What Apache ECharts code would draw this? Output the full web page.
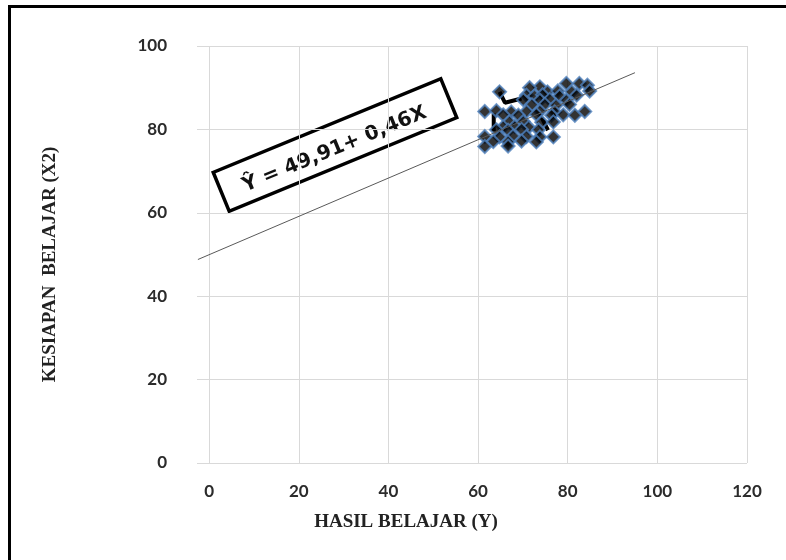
<!DOCTYPE html>
<html>
<head>
<meta charset="utf-8">
<script src="https://cdn.jsdelivr.net/npm/echarts@6/dist/echarts.min.js"></script>
<style>
html, body { margin: 0; padding: 0; background: #fff; }
#chart { width: 786px; height: 560px; }
</style>
</head>
<body>
<div id="chart"></div>
<script>
// hasil belajar (Y) vs kesiapan belajar (X2)
const hasilBelajar = [
	79.7, 82.6, 84.4, 73.8, 71.5,
	64.8, 75.5, 77.8, 80.9, 84.9,
	70.8, 72.6, 74.4, 78.2, 82.0,
	70.1, 73.8, 76.0, 79.7,
	72.0, 74.9, 77.4, 80.4,
	61.5, 64.1, 67.4, 70.8, 73.8, 77.1, 83.8,
	65.6, 69.0, 73.0, 76.4, 79.0, 81.6,
	67.0, 70.1, 74.2, 76.8,
	65.6, 68.2, 71.3,
	64.1, 66.7, 69.7, 73.5,
	61.5, 64.8, 67.8, 70.8, 73.8, 76.8,
	63.4, 66.7, 69.7, 73.0,
	61.5, 66.7
];
const kesiapanBelajar = [
	91.0, 91.0, 90.6, 90.2, 90.0,
	89.0, 89.0, 89.2, 89.0, 89.2,
	88.2, 88.0, 88.3, 88.0, 88.2,
	87.1, 87.0, 87.2, 87.0,
	85.9, 86.0, 85.8, 86.0,
	84.3, 84.5, 84.2, 84.3, 84.4, 84.2, 84.3,
	83.5, 83.4, 83.6, 83.4, 83.5, 83.4,
	81.8, 81.9, 81.7, 81.8,
	80.6, 80.7, 80.5,
	79.9, 79.8, 80.0, 79.9,
	78.3, 78.2, 78.4, 78.3, 78.2, 78.2,
	77.1, 77.0, 77.2, 77.0,
	75.9, 76.0
];
// black pointer strokes inside the cluster (null breaks the line)
const strokeX = [64.8, 66.0, 69.7, null, 63.5, 63.5, null, 74.2, 75.6];
const strokeY = [89.0, 86.4, 87.4, null, 83.8, 79.6, null, 82.8, 79.8];
// regression line end points
const trendX = [-2.5, 95];
const trendY = [48.8, 93.6];
const xTicks = [0, 20, 40, 60, 80, 100, 120];
const equation = 'Ŷ = 49,91+ 0,46X';

const labelStyle = {
	fontFamily: 'Lato',
	fontWeight: 'bold',
	fontSize: 17,
	color: '#2b2b2b'
};

const option = {
	animation: false,
	backgroundColor: '#fff',
	grid: {
		left: 197,
		right: 39,
		top: 46,
		bottom: 97
	},
	xAxis: {
		type: 'value',
		min: -2.7,
		max: 120,
		name: 'HASIL BELAJAR (Y)',
		nameLocation: 'middle',
		nameGap: 50,
		nameTextStyle: {
			fontFamily: 'Liberation Serif',
			fontWeight: 'bold',
			fontSize: 19,
			color: '#222',
			padding: [0, 132, 0, 0]
		},
		axisLine: { show: false },
		axisTick: { show: false, customValues: xTicks },
		axisLabel: Object.assign({ customValues: xTicks, margin: 20 }, labelStyle),
		splitLine: { show: true, lineStyle: { color: '#d9d9d9', width: 1 } }
	},
	yAxis: {
		type: 'value',
		min: 0,
		max: 100,
		interval: 20,
		name: 'KESIAPAN  BELAJAR (X2)',
		nameLocation: 'middle',
		nameGap: 137,
		nameTextStyle: {
			fontFamily: 'Liberation Serif',
			fontWeight: 'bold',
			fontSize: 19,
			color: '#222',
			padding: [0, 20, 0, 0]
		},
		axisLine: { show: false },
		axisTick: { show: false },
		axisLabel: Object.assign({ margin: 30 }, labelStyle),
		splitLine: { show: true, lineStyle: { color: '#d9d9d9', width: 1 } }
	},
	series: [
		{
			name: 'Trend',
			type: 'line',
			data: trendX.map((x, i) => [x, trendY[i]]),
			showSymbol: false,
			lineStyle: { color: '#595959', width: 1 },
			z: 3
		},
		{
			name: 'Strokes',
			type: 'line',
			data: strokeX.map((x, i) => (x === null ? [null, null] : [x, strokeY[i]])),
			connectNulls: false,
			showSymbol: false,
			lineStyle: { color: '#000', width: 4 },
			z: 1
		},
		{
			name: 'Data',
			type: 'scatter',
			data: hasilBelajar.map((x, i) => [x, kesiapanBelajar[i]]),
			symbol: 'diamond',
			symbolSize: 13,
			itemStyle: {
				color: '#000',
				borderColor: '#4f81bd',
				borderWidth: 2
			},
			z: 2
		}
	],
	graphic: [
		{
			type: 'rect',
			shape: { x: 9.5, y: 6.5, width: 900, height: 700 },
			style: { fill: null, stroke: '#000', lineWidth: 3 },
			silent: true
		},
		{
			type: 'group',
			x: 335,
			y: 145,
			rotation: 0.39,
			children: [
				{
					type: 'rect',
					shape: { x: -123, y: -21, width: 246, height: 42 },
					style: { fill: '#fff', stroke: '#000', lineWidth: 3.5 }
				},
				{
					type: 'text',
					x: -2,
					y: 4,
					style: {
						text: equation,
						fontFamily: 'DejaVu Sans',
						fontWeight: 'bold',
						fontSize: 20,
						fill: '#111',
						align: 'center',
						verticalAlign: 'middle'
					}
				}
			]
		}
	]
};

const myChart = echarts.init(document.getElementById('chart'));
myChart.setOption(option);
</script>
</body>
</html>
